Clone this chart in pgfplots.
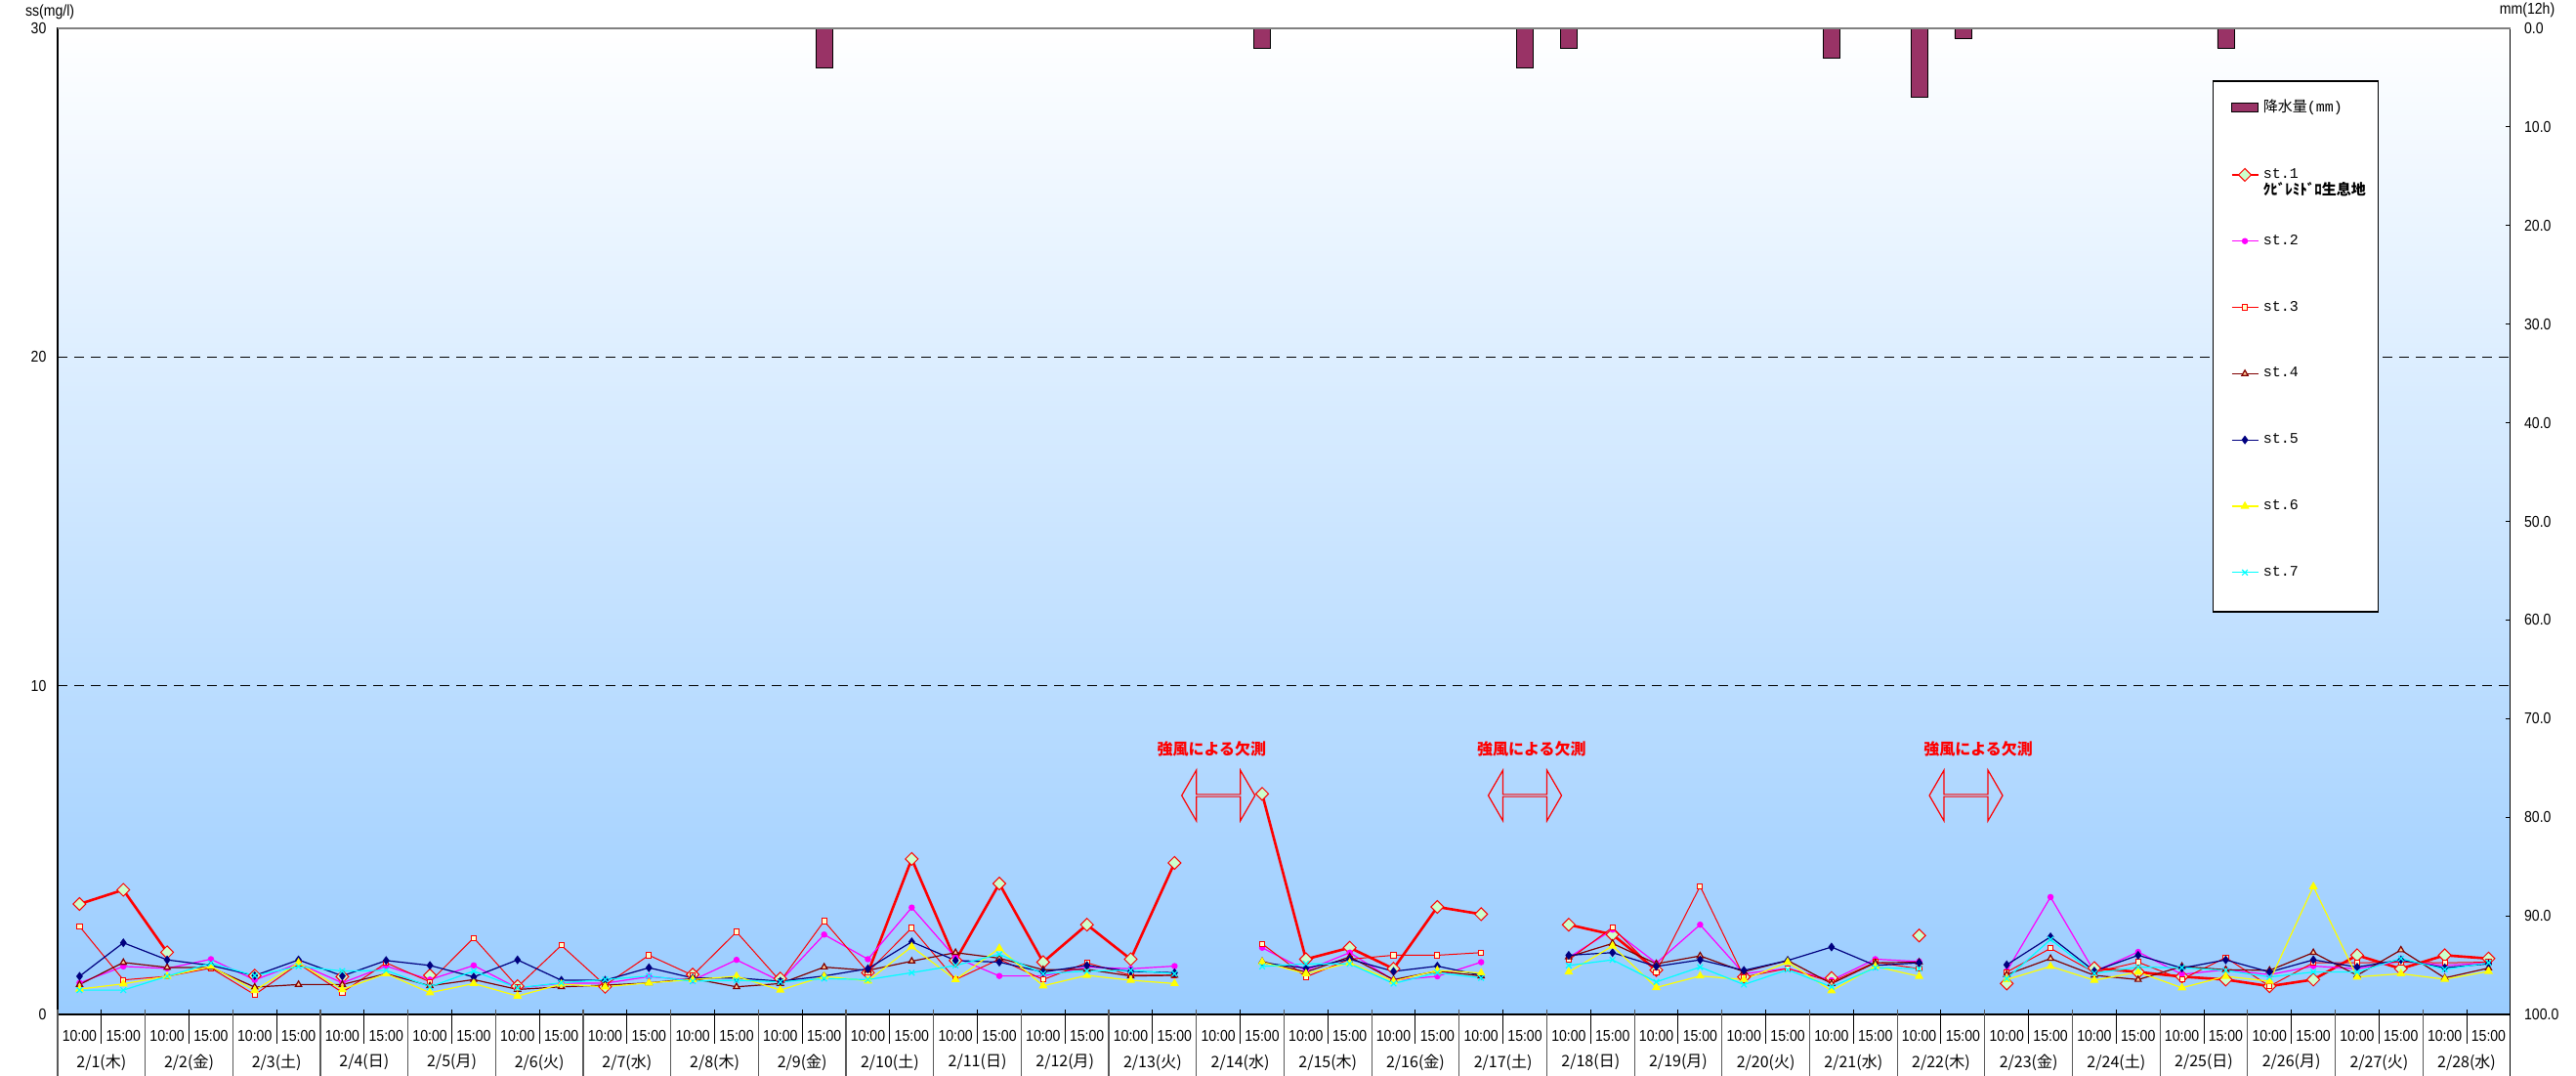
\documentclass[border=0pt]{standalone}
\usepackage{fontspec}
\setmainfont{Liberation Sans}[FakeStretch=0.88]
\newfontfamily\jp{Noto Sans CJK JP}
\newfontfamily\mono{Liberation Mono}
\usepackage{pgfplots}
\usepackage{pgfplotstable}
\pgfplotsset{compat=1.18}
\usetikzlibrary{shapes.arrows}

\definecolor{rainc}{RGB}{153,51,102}
\definecolor{bgblue}{RGB}{153,204,255}
\definecolor{bgmid}{RGB}{210,231,255}
\definecolor{s1c}{RGB}{255,0,0}
\definecolor{s2c}{RGB}{255,0,255}
\definecolor{s4c}{RGB}{128,0,0}
\definecolor{s5c}{RGB}{0,0,128}
\definecolor{s6c}{RGB}{255,255,0}
\definecolor{s7c}{RGB}{0,255,255}
\definecolor{mkfill}{RGB}{204,255,204}
\definecolor{sqfill}{RGB}{255,255,204}
\definecolor{trifill}{RGB}{255,204,153}

\pgfplotstableread{
x s1 s2 s3 s4 s5 s6 s7
0 3.36 0.96 2.68 0.91 1.16 0.77 0.74
1 3.79 1.46 1.05 1.58 2.18 0.93 0.74
2 1.89 1.40 1.16 1.43 1.66 1.16 1.16
3 nan 1.68 1.41 1.43 1.49 1.46 1.56
4 1.18 1.05 0.60 0.83 1.18 0.73 1.18
5 nan 1.55 1.54 0.91 1.66 1.57 1.46
6 1.15 0.96 0.67 0.91 1.17 0.76 1.32
7 nan 1.47 1.57 1.24 1.64 1.24 1.34
8 1.19 1.06 0.99 0.87 1.49 0.66 0.84
9 nan 1.49 2.33 1.06 1.14 0.94 1.32
10 0.86 0.80 0.84 0.76 1.66 0.56 0.81
11 nan 0.95 2.10 0.84 1.04 0.92 0.96
12 0.84 0.95 0.89 0.89 1.04 0.84 1.06
13 nan 1.15 1.80 0.96 1.42 0.96 1.17
14 1.21 1.04 1.19 1.09 1.11 1.06 1.01
15 nan 1.66 2.51 0.84 1.11 1.16 1.04
16 1.09 1.01 1.01 0.94 1.01 0.74 0.99
17 nan 2.43 2.84 1.44 1.17 1.16 1.09
18 1.27 1.68 1.29 1.34 1.39 1.02 1.06
19 4.73 3.25 2.63 1.62 2.21 2.06 1.27
20 1.64 1.73 1.06 1.88 1.64 1.06 1.49
21 3.98 1.17 1.68 1.71 1.59 2.01 1.83
22 1.59 1.17 1.06 1.36 1.29 0.87 1.24
23 2.73 1.44 1.57 1.37 1.49 1.19 1.32
24 1.68 1.39 1.19 1.17 1.31 1.04 1.34
25 4.61 1.47 1.19 1.19 1.27 0.94 1.24
26 nan nan nan nan nan nan nan
27 6.71 2.03 2.15 1.61 1.57 1.59 1.46
28 1.68 1.34 1.14 1.29 1.41 1.24 1.54
29 2.03 1.88 1.68 1.75 1.68 1.57 1.54
30 1.39 1.04 1.80 1.06 1.31 1.01 0.94
31 3.27 1.16 1.80 1.32 1.47 1.34 1.27
32 3.05 1.59 1.88 1.17 1.19 1.26 1.11
33 nan nan nan nan nan nan nan
34 2.73 1.73 1.66 1.75 1.80 1.29 1.49
35 2.43 2.58 2.65 2.16 1.88 2.08 1.66
36 1.35 1.56 1.29 1.54 1.46 0.82 0.99
37 nan 2.73 3.90 1.78 1.66 1.17 1.44
38 1.14 1.24 1.14 1.30 1.34 1.06 0.91
39 nan 1.40 1.40 1.64 1.64 1.59 1.36
40 1.11 1.04 0.99 0.94 2.05 0.72 0.84
41 nan 1.68 1.59 1.57 1.49 1.46 1.42
42 2.40 1.61 1.39 1.59 1.57 1.16 1.39
43 nan nan nan nan nan nan nan
44 0.94 1.32 1.29 1.21 1.51 1.06 1.09
45 nan 3.57 2.01 1.70 2.36 1.46 2.28
46 1.41 1.30 1.28 1.19 1.32 1.04 1.25
47 1.29 1.90 1.59 1.06 1.80 1.29 1.44
48 1.15 1.22 1.07 1.46 1.41 0.81 1.42
49 1.06 1.36 1.73 1.36 1.66 1.16 1.34
50 0.86 1.21 0.86 1.34 1.29 1.01 1.14
51 1.06 1.47 1.57 1.88 1.66 3.89 1.29
52 1.80 1.39 1.57 1.19 1.44 1.14 1.29
53 1.39 1.62 1.59 1.96 1.66 1.24 1.70
54 1.80 1.49 1.57 1.11 1.42 1.07 1.37
55 1.70 1.57 1.59 1.41 1.54 1.31 1.57
}\ssdata

\pgfplotstableread{
x r
17 4.0
27 2.0
33 4.0
34 2.0
40 3.0
42 7.0
43 1.0
49 2.0
}\raindata

\begin{document}
\begin{tikzpicture}
\useasboundingbox (-29.5pt,-31.5pt) rectangle (1289pt,519pt);
% ---------- rain axis (right) ----------
\begin{axis}[
  at={(0,0)}, anchor=south west, scale only axis,
  width=1255.5pt, height=504.5pt,
  xmin=-0.5, xmax=55.5, ymin=0, ymax=100, y dir=reverse,
  hide x axis, axis y line*=right,
  ytick={0,10,...,100},
  tick align=inside, major tick length=2.5pt,
  /pgf/number format/assume math mode=true,
  yticklabel style={font=\fontsize{8}{9}\selectfont, xshift=3.6pt,
    /pgf/number format/fixed, /pgf/number format/fixed zerofill,
    /pgf/number format/precision=1},
  axis line style={black, line width=0.6pt},
  tick style={black, line width=0.6pt},
  axis background/.style={shade, top color=white, middle color=bgmid, bottom color=bgblue},
  clip=false,
]
\addplot[ybar, bar width=8.5pt, fill=rainc, draw=black, line width=0.4pt] table[x=x,y=r] {\raindata};
\end{axis}
% ---------- SS axis (left) ----------
\begin{axis}[
  at={(0,0)}, anchor=south west, scale only axis,
  width=1255.5pt, height=504.5pt,
  xmin=-0.5, xmax=55.5, ymin=0, ymax=30,
  ytick={0,10,20,30}, ytick pos=left,
  /pgf/number format/assume math mode=true,
  yticklabel style={font=\fontsize{8}{9}\selectfont, xshift=-2.3pt},
  ymajorgrids, grid style={black, line width=0.5pt, dash pattern=on 5pt off 3.5pt},
  xtick={0,...,55}, xtick pos=bottom,
  xticklabels={10:00,15:00,10:00,15:00,10:00,15:00,10:00,15:00,10:00,15:00,10:00,15:00,10:00,15:00,10:00,15:00,10:00,15:00,10:00,15:00,10:00,15:00,10:00,15:00,10:00,15:00,10:00,15:00,10:00,15:00,10:00,15:00,10:00,15:00,10:00,15:00,10:00,15:00,10:00,15:00,10:00,15:00,10:00,15:00,10:00,15:00,10:00,15:00,10:00,15:00,10:00,15:00,10:00,15:00,10:00,15:00},
  xticklabel style={font=\fontsize{8}{9}\selectfont, anchor=center, yshift=-11pt},
  extra x ticks={0.5,2.5,...,54.5},
  extra x tick labels={2/1(木),2/2(金),2/3(土),2/4(日),2/5(月),2/6(火),2/7(水),2/8(木),2/9(金),2/10(土),2/11(日),2/12(月),2/13(火),2/14(水),2/15(木),2/16(金),2/17(土),2/18(日),2/19(月),2/20(火),2/21(水),2/22(木),2/23(金),2/24(土),2/25(日),2/26(月),2/27(火),2/28(水)},
  extra x tick style={grid=none, xticklabel style={font=\jp\fontsize{8}{9}\selectfont, yshift=-13.5pt}},
  major tick length=0pt,
  axis line style={black, line width=0.6pt},
  clip=false, unbounded coords=jump,
  legend image code/.code={\draw[mark repeat=2,mark phase=2] plot coordinates {(0pt,0pt) (6.75pt,0pt) (13.5pt,0pt)};},
  legend style={draw=none, fill=none, at={(rel axis cs:0.8857,0.932)}, anchor=north west,
    font=\fontsize{7.5}{9}\selectfont, row sep=23.4pt, inner sep=0pt},
  legend cell align=left,
]
% legend box
\draw[black, line width=0.6pt, fill=white] (rel axis cs:0.8789,0.9465) rectangle (rel axis cs:0.9462,0.4083);
\addlegendimage{legend image code/.code={\draw[fill=rainc, draw=black, line width=0.4pt] (0pt,-2.2pt) rectangle (13.5pt,2.2pt);}}
\addlegendentry{{\jp 降水量}{\mono (mm)}}

\addplot[s1c, line width=1.3pt, mark=square*, mark size=2.3pt, mark options={rotate=45, fill=mkfill, draw=s1c, line width=0.5pt}] table[x=x,y=s1] {\ssdata};
\addlegendentry{\rlap{\raisebox{-8.5pt}[0pt][0pt]{\jp\bfseries ｸﾋﾞﾚﾐﾄﾞﾛ生息地}}{\mono st.1}}
\addplot[s2c, line width=0.6pt, mark=*, mark size=1.3pt, mark options={fill=s2c}] table[x=x,y=s2] {\ssdata};
\addlegendentry{\mono st.2}
\addplot[s1c, line width=0.5pt, mark=square*, mark size=1.3pt, mark options={fill=sqfill, draw=s1c}] table[x=x,y=s3] {\ssdata};
\addlegendentry{\mono st.3}
\addplot[s4c, line width=0.6pt, mark=triangle*, mark size=1.8pt, mark options={fill=trifill, draw=s4c}] table[x=x,y=s4] {\ssdata};
\addlegendentry{\mono st.4}
\addplot[s5c, line width=0.6pt, mark=diamond*, mark size=1.8pt, mark options={fill=s5c}] table[x=x,y=s5] {\ssdata};
\addlegendentry{\mono st.5}
\addplot[s6c, line width=0.6pt, mark=triangle*, mark size=2pt, mark options={fill=s6c}] table[x=x,y=s6] {\ssdata};
\addlegendentry{\mono st.6}
\addplot[s7c, line width=0.6pt, mark=x, mark size=2pt, mark options={line width=0.6pt}] table[x=x,y=s7] {\ssdata};
\addlegendentry{\mono st.7}

% top border in gray
\draw[gray, line width=0.6pt] (rel axis cs:0,1) -- (rel axis cs:1,1);
% category separators
\pgfplotsinvokeforeach{0,...,27}{
  \draw[black!65, line width=0.6pt] ([yshift=2.5pt]axis cs:{2*#1-0.5},0) -- ([yshift=-36pt]axis cs:{2*#1-0.5},0);
  \draw[black, line width=0.5pt] ([yshift=2.5pt]axis cs:{2*#1+0.5},0) -- ([yshift=-15pt]axis cs:{2*#1+0.5},0);
}
\draw[black, line width=0.6pt] (axis cs:55.5,0) -- ([yshift=-36pt]axis cs:55.5,0);
% axis titles
\node[anchor=west, font=\fontsize{8}{9}\selectfont] at ([xshift=-20pt, yshift=8.5pt]rel axis cs:0,1) {ss(mg/l)};
\node[anchor=west, font=\fontsize{8}{9}\selectfont] at ([xshift=-9pt, yshift=9.5pt]rel axis cs:1,1) {mm(12h)};
% annotations
\node[font=\jp\bfseries\fontsize{8}{9}\selectfont, text=s1c] at (axis cs:25.85,8.09) {強風による欠測};
\node[double arrow, draw=s1c, line width=0.6pt, minimum height=37.5pt, minimum width=26pt, double arrow head extend=6.5pt, double arrow tip angle=120, inner sep=0pt] at (axis cs:26,6.66) {};
\node[font=\jp\bfseries\fontsize{8}{9}\selectfont, text=s1c] at (axis cs:33.15,8.09) {強風による欠測};
\node[double arrow, draw=s1c, line width=0.6pt, minimum height=37.5pt, minimum width=26pt, double arrow head extend=6.5pt, double arrow tip angle=120, inner sep=0pt] at (axis cs:33,6.66) {};
\node[font=\jp\bfseries\fontsize{8}{9}\selectfont, text=s1c] at (axis cs:43.35,8.09) {強風による欠測};
\node[double arrow, draw=s1c, line width=0.6pt, minimum height=37.5pt, minimum width=26pt, double arrow head extend=6.5pt, double arrow tip angle=120, inner sep=0pt] at (axis cs:43.07,6.66) {};
\end{axis}
\end{tikzpicture}
\end{document}
